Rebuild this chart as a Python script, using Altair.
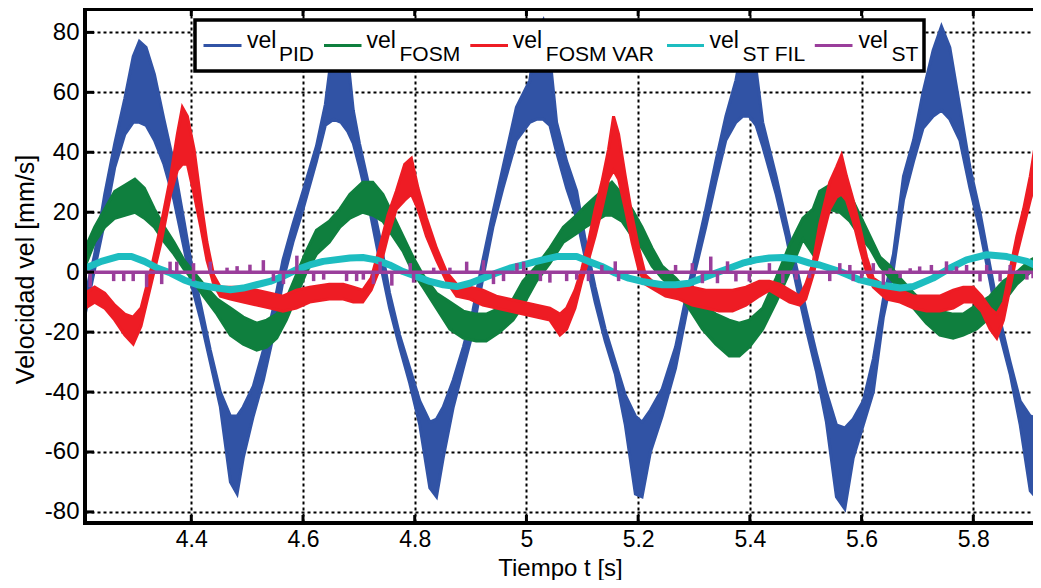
import altair as alt
import pandas as pd

# ---------------- data ----------------
pid_t = [4.210, 4.227, 4.245, 4.263, 4.281, 4.296, 4.307, 4.319, 4.334, 4.351, 4.369, 4.387, 4.400, 4.417,
         4.434, 4.452, 4.470, 4.482, 4.493, 4.511, 4.529, 4.547, 4.564, 4.582, 4.600, 4.624, 4.640, 4.655,
         4.668, 4.680, 4.690, 4.701, 4.719, 4.737, 4.755, 4.773, 4.791, 4.809, 4.827, 4.839, 4.851, 4.869,
         4.887, 4.904, 4.922, 4.940, 4.958, 4.982, 5.006, 5.018, 5.030, 5.042, 5.054, 5.072, 5.090, 5.105,
         5.123, 5.141, 5.159, 5.177, 5.195, 5.207, 5.222, 5.243, 5.267, 5.285, 5.303, 5.321, 5.339, 5.357,
         5.375, 5.387, 5.399, 5.411, 5.423, 5.447, 5.465, 5.483, 5.501, 5.519, 5.537, 5.555, 5.570, 5.585,
         5.603, 5.621, 5.639, 5.657, 5.675, 5.693, 5.710, 5.728, 5.743, 5.758, 5.776, 5.794, 5.812, 5.830,
         5.848, 5.866, 5.884, 5.902, 5.921]
pid_lo = [-14, 1, 17, 35, 46, 50, 50, 49, 44, 36, 24, 8, -4, -16,
          -30, -45, -70, -74, -62, -48, -36, -21, -3, 10, 21, 37, 49, 51,
          50, 47, 43, 35, 21, 4, -12, -25, -37, -51, -72, -75, -62, -45,
          -32, -20, -2, 15, 28, 44, 50, 51, 51, 49, 40, 28, 18, 5,
          -10, -23, -34, -51, -74, -75, -60, -48, -32, -15, 1, 15, 30, 44,
          50, 52, 52, 49, 42, 26, 12, -4, -19, -33, -50, -75, -79, -62,
          -51, -40, -15, 1, 24, 37, 48, 52, 54, 51, 44, 28, 14, -3,
          -21, -34, -51, -73, -77]
pid_hi = [-8, 6, 26, 43, 58, 72, 77, 75, 66, 51, 36, 17, 3, -11,
          -26, -40, -48, -48, -45, -38, -26, -12, 4, 16, 27, 42, 56, 78,
          83, 72, 54, 43, 28, 12, -7, -21, -32, -43, -50, -49, -45, -36,
          -25, -13, 4, 20, 35, 55, 64, 80, 84, 72, 50, 37, 27, 11,
          -5, -19, -30, -41, -48, -50, -46, -39, -25, -9, 6, 21, 37, 52,
          64, 76, 78, 68, 50, 32, 17, 2, -13, -27, -40, -51, -52, -49,
          -43, -29, -9, 6, 32, 44, 60, 74, 82, 75, 55, 35, 20, 2,
          -16, -30, -43, -48, -49]

fosm_t = [4.210, 4.227, 4.245, 4.263, 4.281, 4.299, 4.316, 4.334, 4.352, 4.369, 4.387, 4.400, 4.422, 4.446,
          4.470, 4.493, 4.517, 4.535, 4.553, 4.570, 4.588, 4.606, 4.624, 4.647, 4.666, 4.684, 4.707, 4.725,
          4.743, 4.761, 4.779, 4.797, 4.815, 4.839, 4.863, 4.887, 4.910, 4.928, 4.952, 4.976, 4.994, 5.018,
          5.042, 5.066, 5.090, 5.105, 5.123, 5.141, 5.153, 5.171, 5.189, 5.207, 5.225, 5.243, 5.267, 5.291,
          5.315, 5.339, 5.363, 5.381, 5.399, 5.423, 5.447, 5.471, 5.495, 5.513, 5.525, 5.543, 5.561, 5.579,
          5.597, 5.615, 5.633, 5.651, 5.669, 5.693, 5.716, 5.740, 5.764, 5.782, 5.806, 5.830, 5.854, 5.878,
          5.902, 5.921]
fosm_lo = [2, 10, 15, 18, 19, 20, 18, 15, 10, 6, 1, -2, -8, -14,
           -21, -24, -26, -25, -22, -16, -8, 0, 6, 10, 15, 18, 20, 19,
           17, 12, 7, 0, -5, -12, -19, -22, -23, -23, -20, -16, -11, -3,
           3, 10, 13, 15, 17, 19, 19, 17, 12, 8, 2, -2, -6, -12,
           -19, -24, -28, -28, -25, -19, -10, 0, 11, 6, 19, 21, 20, 17,
           12, 8, 2, -2, -6, -12, -17, -21, -22, -21, -19, -15, -10, -4,
           0, 3]
fosm_hi = [8, 15, 21, 27, 29, 31, 28, 21, 15, 10, 4, 1, -4, -9,
           -12, -15, -17, -16, -14, -9, -1, 7, 14, 17, 21, 26, 30, 30,
           26, 19, 12, 5, -1, -7, -10, -13, -14, -14, -12, -9, -3, 2,
           8, 15, 19, 22, 25, 28, 30, 26, 21, 15, 8, 2, -2, -7,
           -11, -14, -16, -17, -16, -12, -2, 9, 18, 21, 27, 29, 30, 26,
           19, 12, 5, 2, -2, -7, -11, -13, -14, -14, -11, -8, -3, 0,
           4, 6]

var_t = [4.210, 4.227, 4.245, 4.263, 4.281, 4.296, 4.310, 4.328, 4.346, 4.363, 4.375, 4.384, 4.393, 4.405,
         4.417, 4.428, 4.440, 4.452, 4.470, 4.493, 4.517, 4.541, 4.564, 4.588, 4.612, 4.647, 4.672, 4.690,
         4.707, 4.722, 4.737, 4.752, 4.767, 4.782, 4.794, 4.806, 4.821, 4.839, 4.857, 4.875, 4.899, 4.922,
         4.946, 4.970, 4.994, 5.018, 5.042, 5.060, 5.072, 5.087, 5.099, 5.111, 5.123, 5.135, 5.147, 5.156,
         5.165, 5.177, 5.189, 5.201, 5.213, 5.231, 5.249, 5.273, 5.297, 5.321, 5.345, 5.369, 5.393, 5.417,
         5.435, 5.453, 5.471, 5.489, 5.500, 5.513, 5.525, 5.543, 5.555, 5.564, 5.573, 5.585, 5.597, 5.609,
         5.621, 5.645, 5.669, 5.693, 5.716, 5.740, 5.764, 5.782, 5.800, 5.815, 5.830, 5.842, 5.854, 5.866,
         5.878, 5.890, 5.902, 5.914, 5.921]
var_lo = [-12, -10, -12, -16, -21, -24, -18, -4, 10, 26, 34, 36, 36, 26,
          15, 4, -4, -8, -9, -10, -11, -12, -13, -12, -10, -9, -9, -10,
          -10, -6, 1, 12, 21, 24, 26, 21, 12, 4, -3, -8, -9, -11,
          -12, -13, -14, -15, -16, -21, -19, -12, -3, 4, 12, 21, 31, 34,
          31, 21, 10, 1, -4, -6, -8, -9, -11, -12, -13, -13, -11, -8,
          -6, -8, -10, -11, -9, -1, 8, 21, 25, 26, 24, 17, 8, 0,
          -5, -9, -10, -12, -13, -13, -12, -10, -10, -13, -19, -22, -16, -5,
          6, 15, 24, 32, 39]
var_hi = [-7, -5, -7, -11, -14, -15, -12, 1, 16, 32, 46, 55, 52, 41,
          24, 10, -1, -5, -5, -5, -6, -7, -8, -6, -5, -4, -4, -5,
          -6, -2, 8, 19, 27, 36, 38, 28, 18, 8, 0, -4, -5, -6,
          -8, -9, -10, -11, -12, -14, -12, -6, 1, 10, 21, 30, 41, 52,
          46, 32, 19, 8, -1, -4, -5, -5, -5, -6, -6, -6, -5, -3,
          -3, -4, -6, -8, -4, 3, 16, 30, 35, 39, 32, 24, 15, 5,
          -2, -5, -6, -8, -8, -8, -6, -5, -5, -8, -12, -14, -10, 1,
          12, 21, 32, 46, 49]

fil_t = [4.210, 4.239, 4.269, 4.293, 4.316, 4.340, 4.363, 4.387, 4.411, 4.446, 4.470, 4.493, 4.517, 4.541,
         4.564, 4.588, 4.612, 4.636, 4.684, 4.707, 4.731, 4.755, 4.779, 4.803, 4.827, 4.851, 4.875, 4.899,
         4.922, 4.946, 4.970, 4.994, 5.018, 5.054, 5.090, 5.111, 5.135, 5.159, 5.183, 5.207, 5.243, 5.267,
         5.291, 5.315, 5.339, 5.363, 5.387, 5.411, 5.435, 5.459, 5.483, 5.507, 5.525, 5.561, 5.597, 5.633,
         5.669, 5.693, 5.728, 5.758, 5.788, 5.824, 5.860, 5.896, 5.921]
fil_v = [1.3, 3.6, 5.2, 5.2, 3.6, 1.3, -0.3, -2.6, -4.2, -5.3, -5.9, -5.3, -4.2, -3.1,
         -1.4, 0.8, 2.4, 3.6, 4.7, 4.9, 4.1, 2.4, 0.2, -1.4, -3.1, -4.2, -4.8, -3.7,
         -2.0, -0.3, 1.3, 2.4, 3.6, 5.2, 5.2, 3.6, 1.9, -0.3, -2.0, -3.1, -4.2, -4.2,
         -3.7, -2.0, -0.3, 1.3, 3.0, 4.1, 4.7, 4.9, 4.4, 3.0, 2.4, 0.2, -2.6, -4.2,
         -5.3, -4.8, -2.0, 1.3, 4.1, 5.8, 5.2, 3.6, 1.3]

st_base_t = [4.210, 5.921]
st_base_v = [0, 0]
st_spike_t = [4.219, 4.261, 4.279, 4.296, 4.320, 4.347, 4.362, 4.374, 4.404, 4.404, 4.434, 4.464, 4.482,
              4.505, 4.529, 4.547, 4.565, 4.589, 4.619, 4.637, 4.678, 4.696, 4.708, 4.726, 4.738, 4.759,
              4.792, 4.798, 4.834, 4.863, 4.893, 4.923, 4.941, 4.959, 4.983, 4.995, 5.025, 5.042, 5.072,
              5.090, 5.111, 5.135, 5.159, 5.165, 5.267, 5.297, 5.315, 5.330, 5.342, 5.360, 5.375, 5.399,
              5.435, 5.459, 5.483, 5.507, 5.543, 5.561, 5.579, 5.585, 5.600, 5.621, 5.639, 5.651, 5.669,
              5.687, 5.704, 5.725, 5.752, 5.770, 5.788, 5.812, 5.824, 5.848, 5.866, 5.896, 5.907]
st_spike_v = [-5, -3, -3, -3, -5, -4, 3.5, 3.5, 3, -3, 3.5, 1.5, 2,
              2.5, 4, -3, -4, 5.5, -3, -2.5, -3, -3, -2.5, -4, 3.5, -4.5,
              3, -3.5, 1.5, 1.5, 3.5, 4, -4, -3, 3, 3.5, -3, -3.5, -3,
              -2.5, -3, 2.4, 3.6, -3, 2.4, 3, -3.7, 5.2, -3.7, 3.6, -3.1, -3.1,
              3, -3.7, -2.5, -2, -3, 3, 2.4, -3, -2, 3, -4.2, 1.3, -2,
              1.3, 1.9, 2.4, 3.6, 1.9, 2.4, -3.1, 2.4, -3.1, 2.4, -2.5, -2]

x_ticks = [4.4, 4.6, 4.8, 5.0, 5.2, 5.4, 5.6, 5.8]
y_ticks = [-80, -60, -40, -20, 0, 20, 40, 60, 80]

names = ["PID", "FOSM", "FOSM VAR", "ST FIL", "ST"]
colors = ["#3153A5", "#0F7F3E", "#EE1C24", "#1DBDC0", "#9A3E9B"]

# ---------------- layout ----------------
W, H = 948, 514
FONT = "Liberation Sans"
xs = alt.Scale(domain=[4.2097, 5.9069], nice=False, zero=False)
ys = alt.Scale(domain=[-83.7, 87.8], nice=False, zero=False)

xaxis = alt.Axis(title="Tiempo t [s]", values=x_ticks, labelExpr="datum.value + ''",
                 grid=True, gridDash=[3, 3], gridColor="black", gridWidth=2, gridOpacity=1,
                 domain=False, ticks=False, tickSize=0, labelPadding=5, labelFlush=False,
                 labelFontSize=23, labelFont=FONT, labelColor="black",
                 titleFontSize=24, titleFont=FONT, titleFontWeight="normal", titleColor="black",
                 titleX=475, titleY=52, titleAlign="center", titleBaseline="alphabetic")
yaxis = alt.Axis(title="Velocidad vel [mm/s]", values=y_ticks, labelExpr="datum.value + ''",
                 grid=True, gridDash=[3, 3], gridColor="black", gridWidth=2, gridOpacity=1,
                 domain=False, ticks=False, tickSize=0, labelPadding=6, labelFlush=False,
                 labelFontSize=24, labelFont=FONT, labelColor="black",
                 titleFontSize=25, titleFont=FONT, titleFontWeight="normal", titleColor="black",
                 titleAngle=270, titleX=-52, titleY=260, titleAlign="center", titleBaseline="alphabetic")


def X(f):
    return alt.X(f, type="quantitative", scale=xs, axis=xaxis)


def Y(f):
    return alt.Y(f, type="quantitative", scale=ys, axis=yaxis)


layers = []

for t, lo, hi, c in [(pid_t, pid_lo, pid_hi, colors[0]),
                     (fosm_t, fosm_lo, fosm_hi, colors[1]),
                     (var_t, var_lo, var_hi, colors[2])]:
    d = pd.DataFrame({"t": t, "lo": lo, "hi": hi})
    base = alt.Chart(d)
    layers.append(base.mark_area(color=c, opacity=1, clip=True).encode(x=X("t"), y=Y("lo"), y2="hi:Q"))
    layers.append(base.mark_line(color=c, strokeWidth=3, clip=True).encode(x=X("t"), y=Y("lo")))
    layers.append(base.mark_line(color=c, strokeWidth=3, clip=True).encode(x=X("t"), y=Y("hi")))

dfil = pd.DataFrame({"t": fil_t, "v": fil_v})
layers.append(alt.Chart(dfil).mark_line(color=colors[3], strokeWidth=7, strokeJoin="round", clip=True)
              .encode(x=X("t"), y=Y("v")))

dbase = pd.DataFrame({"t": st_base_t, "v": st_base_v})
layers.append(alt.Chart(dbase).mark_line(color=colors[4], strokeWidth=3.5, clip=True)
              .encode(x=X("t"), y=Y("v")))
dsp = pd.DataFrame({"t": st_spike_t, "v": st_spike_v, "z": [0] * len(st_spike_t)})
layers.append(alt.Chart(dsp).mark_rule(color=colors[4], strokeWidth=3.5, clip=True)
              .encode(x=X("t"), y=Y("z"), y2="v:Q"))

# inward ticks and frame (the right side is cut off in the reference)
dxt = pd.DataFrame({"v": x_ticks})
dyt = pd.DataFrame({"v": y_ticks})
layers.append(alt.Chart(dxt).mark_rule(color="black", strokeWidth=3)
              .encode(x=X("v"), y=alt.value(H), y2=alt.value(H - 8)))
layers.append(alt.Chart(dxt).mark_rule(color="black", strokeWidth=3)
              .encode(x=X("v"), y=alt.value(0), y2=alt.value(7)))
layers.append(alt.Chart(dyt).mark_rule(color="black", strokeWidth=3)
              .encode(y=Y("v"), x=alt.value(0), x2=alt.value(9)))
one = pd.DataFrame({"a": [0]})
layers.append(alt.Chart(one).mark_rule(color="black", strokeWidth=4)
              .encode(x=alt.value(0), y=alt.value(-2), y2=alt.value(H + 2)))
layers.append(alt.Chart(one).mark_rule(color="black", strokeWidth=4)
              .encode(x=alt.value(0), x2=alt.value(W), y=alt.value(0)))
layers.append(alt.Chart(one).mark_rule(color="black", strokeWidth=4)
              .encode(x=alt.value(0), x2=alt.value(W), y=alt.value(H)))

# legend (manual, for subscripts)
layers.append(alt.Chart(one).mark_rect(fill="white", stroke="black", strokeWidth=3.5)
              .encode(x=alt.value(110), x2=alt.value(839), y=alt.value(11), y2=alt.value(62)))
leg_sample = [(118.5, 156.5), (239, 276.5), (385.3, 423), (582, 619), (729.8, 767.5)]
leg_vel_x = [162, 281.5, 427.8, 624.5, 773.5]
leg_sub_x = [194, 314.5, 460.8, 657.5, 806.5]
for i, n in enumerate(names):
    x0, x1 = leg_sample[i]
    layers.append(alt.Chart(one).mark_rule(color=colors[i], strokeWidth=3)
                  .encode(x=alt.value(x0), x2=alt.value(x1), y=alt.value(36.5)))
    layers.append(alt.Chart(one).mark_text(text="vel", font=FONT, fontSize=23, color="black",
                                           align="left", baseline="alphabetic")
                  .encode(x=alt.value(leg_vel_x[i]), y=alt.value(39)))
    layers.append(alt.Chart(one).mark_text(text=n, font=FONT, fontSize=21, color="black",
                                           align="left", baseline="alphabetic")
                  .encode(x=alt.value(leg_sub_x[i]), y=alt.value(52)))

chart = alt.layer(*layers).properties(
    width=W, height=H,
    padding={"left": 77, "top": 1, "right": 0, "bottom": 57},
    autosize=alt.AutoSizeParams(type="none"),
    background="white",
).configure_view(stroke=None)

chart.save("out.html", embed_options={"renderer": "svg", "actions": False})
